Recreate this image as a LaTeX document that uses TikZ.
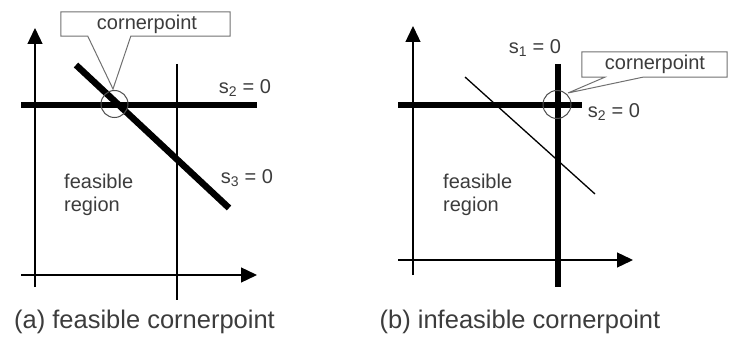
\documentclass[tikz,border=0pt]{standalone}
\usepackage{fontspec}
\setmainfont{Liberation Sans}
\usetikzlibrary{arrows.meta}
\definecolor{txt}{HTML}{3C3C3C}
\definecolor{mk}{HTML}{505050}
\definecolor{cb}{HTML}{707070}
\begin{document}
\begin{tikzpicture}[x=1pt,y=-1pt,
  thinline/.style={line width=1.3pt, black},
  axis/.style={thinline, -{Triangle[length=16pt,width=15pt]}},
  thickline/.style={line width=6.5pt, black},
  lbl/.style={text=txt, font=\fontsize{20}{23}\selectfont, inner sep=0pt},
  captext/.style={text=txt, font=\fontsize{25.5}{30}\selectfont, inner sep=0pt},
  marker/.style={draw=mk, line width=1pt},
  callbox/.style={draw=cb, line width=1pt},
  boxnode/.style={inner sep=0pt, minimum width=#1, minimum height=24pt}
]
\useasboundingbox (0,0) rectangle (731,339);
% ---------- panel (a) ----------
\coordinate (a0) at (35,287);
\coordinate (ay) at (35,28);
\coordinate (ax0) at (21,275);
\coordinate (ax) at (257,275);
\coordinate (av0) at (177,64);
\coordinate (av1) at (177,300);
\coordinate (ah0) at (21,105);
\coordinate (ah1) at (257,105);
\coordinate (ad0) at (76,65);
\coordinate (ad1) at (229,208);
\draw[axis] (a0) -- (ay);
\draw[axis] (ax0) -- (ax);
\draw[thinline] (av0) -- (av1);
\draw[thickline] (ah0) -- (ah1);
\draw[thickline] (ad0) -- (ad1);
\node[marker, circle, minimum size=27pt, inner sep=0pt] (ca) at (114.5,104) {};
\node[boxnode=169pt] (ba) at (145.5,24) {};
\node[lbl] (bta) at (147,24) {cornerpoint};
\coordinate (ta) at (113,89);
\draw[callbox] ([xshift=27pt]ba.south west) -- (ba.south west) -- (ba.north west)
  -- (ba.north east) -- (ba.south east) -- ([xshift=70pt]ba.south west) -- (ta)
  -- cycle;
\node[lbl] (s2a) at (245,88) {s\textsubscript{2} = 0};
\node[lbl] (s3a) at (247,178) {s\textsubscript{3} = 0};
\node[lbl, align=left, anchor=west] (fra) at (64,195) {feasible\\region};
\node[captext] (capa) at (144.5,322) {(a) feasible cornerpoint};
% ---------- panel (b) ----------
\coordinate (b0) at (413,275);
\coordinate (by) at (413,26);
\coordinate (bx0) at (398,260);
\coordinate (bx) at (633,260);
\coordinate (bv0) at (558,64);
\coordinate (bv1) at (558,287);
\coordinate (bh0) at (398,105);
\coordinate (bh1) at (582,105);
\coordinate (bd0) at (465,77);
\coordinate (bd1) at (595,194);
\draw[axis] (b0) -- (by);
\draw[axis] (bx0) -- (bx);
\draw[thinline] (bd0) -- (bd1);
\draw[thickline] (bh0) -- (bh1);
\draw[thickline] (bv0) -- (bv1);
\node[marker, circle, minimum size=28pt, inner sep=0pt] (cb) at (557,104.5) {};
\node[boxnode=145pt, minimum height=25pt] (bb) at (654.5,64.5) {};
\node[lbl] (btb) at (655,64) {cornerpoint};
\coordinate (tb) at (568,93);
\draw[callbox] ([xshift=23pt]bb.south west) -- (bb.south west) -- (bb.north west)
  -- (bb.north east) -- (bb.south east) -- ([xshift=61pt]bb.south west) -- (tb)
  -- cycle;
\node[lbl] (s1b) at (535,48) {s\textsubscript{1} = 0};
\node[lbl] (s2b) at (614,112) {s\textsubscript{2} = 0};
\node[lbl, align=left, anchor=west] (frb) at (443,195) {feasible\\region};
\node[captext] (capb) at (520,322) {(b) infeasible cornerpoint};
\end{tikzpicture}
\end{document}
